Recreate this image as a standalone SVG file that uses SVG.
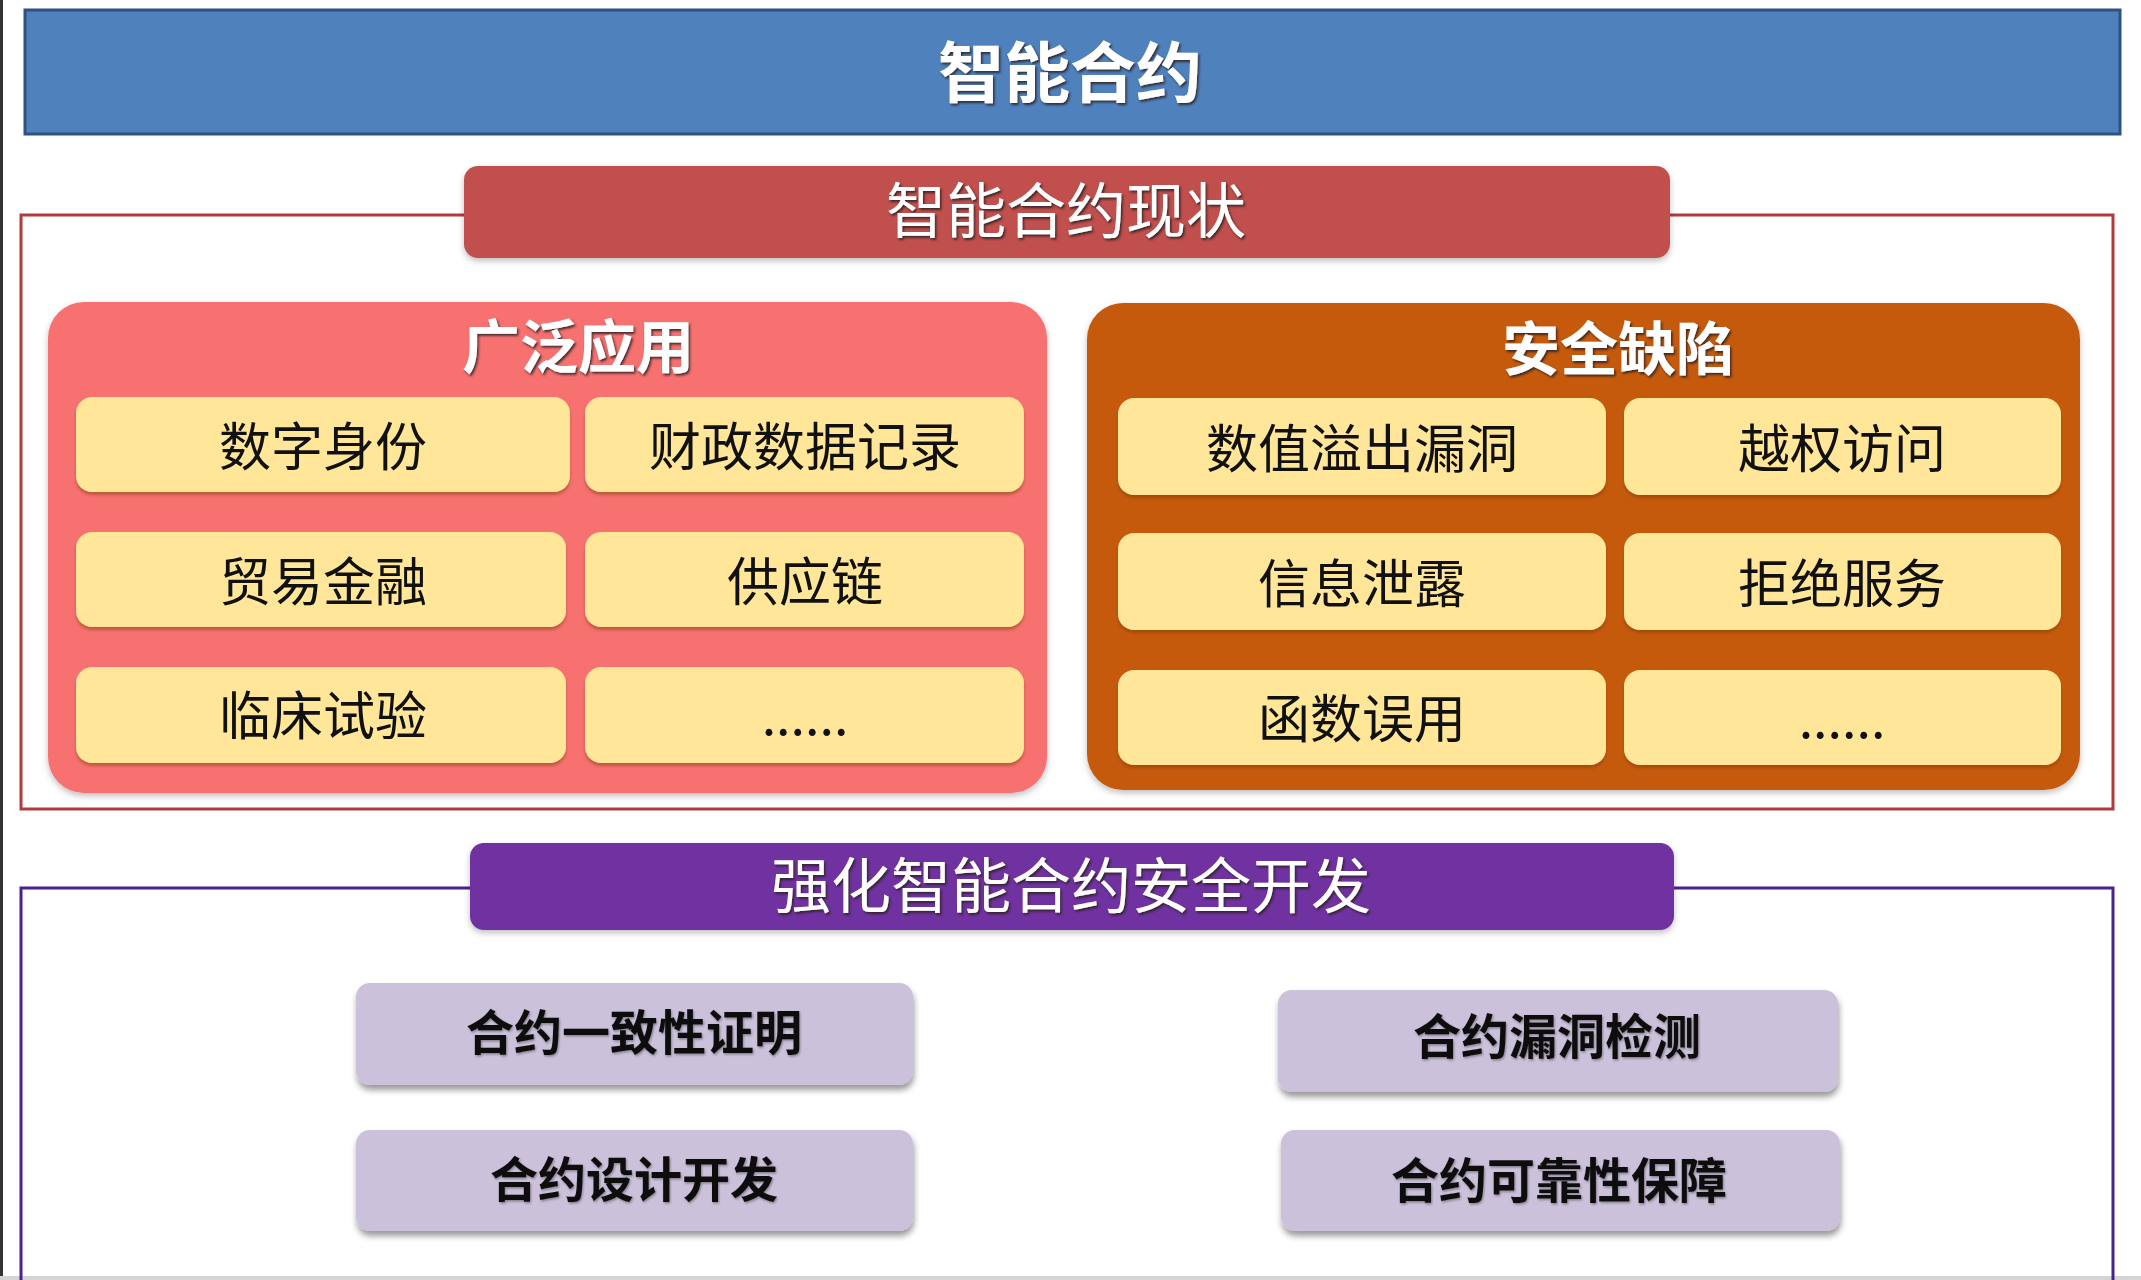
<svg xmlns="http://www.w3.org/2000/svg" width="2141" height="1280" viewBox="0 0 2141 1280">
<defs>
<filter id="tsh" x="-10%" y="-20%" width="120%" height="150%">
<feDropShadow dx="1.5" dy="2" stdDeviation="1" flood-color="#2a1a1a" flood-opacity="0.85"/>
</filter>
<filter id="tshl" x="-10%" y="-20%" width="120%" height="150%">
<feDropShadow dx="1" dy="1.5" stdDeviation="1" flood-color="#000" flood-opacity="0.35"/>
</filter>
<filter id="bsh" x="-5%" y="-10%" width="110%" height="130%">
<feDropShadow dx="1" dy="5" stdDeviation="3" flood-color="#000" flood-opacity="0.4"/>
</filter>
<filter id="ysh" x="-5%" y="-10%" width="110%" height="130%">
<feDropShadow dx="0" dy="3" stdDeviation="1.5" flood-color="#7a3a00" flood-opacity="0.45"/>
</filter>
<filter id="psh" x="-5%" y="-10%" width="110%" height="130%">
<feDropShadow dx="0" dy="3" stdDeviation="3" flood-color="#000" flood-opacity="0.25"/>
</filter>
</defs>
<style>
text{font-family:"Noto Sans CJK SC","Liberation Sans",sans-serif;text-anchor:middle;dominant-baseline:central;}
.wt{fill:#ffffff;filter:url(#tsh);}
.bold{font-weight:700;}
.yb{fill:#FFE699;filter:url(#ysh);}
.yt{fill:#111111;font-size:52px;}
.lb{fill:#CCC1DA;filter:url(#bsh);}
.lt{fill:#111111;font-size:48px;font-weight:700;filter:url(#tshl);}
.frame{fill:none;stroke-width:3;}
</style>
<rect x="0" y="0" width="2141" height="1280" fill="#ffffff"/>
<rect x="0" y="0" width="3" height="1280" fill="#333333"/>
<rect x="0" y="1276" width="2141" height="4" fill="#d4d4d4"/>

<g id="frames">
<polyline class="frame" stroke="#B03A3D" points="464,215 21,215 21,809 2113,809 2113,215 1670,215"/>
<polyline class="frame" stroke="#4B2190" points="470,888 21,888 21,1280"/>
<polyline class="frame" stroke="#4B2190" points="1674,888 2113,888 2113,1280"/>
</g>
<g id="connectors"></g>

<g id="title">
<rect x="25" y="10" width="2095" height="124" fill="#4F81BD" stroke="#2F5283" stroke-width="3"/>
<text class="wt bold" x="1070" y="68" font-size="66">智能合约</text>
</g>

<g id="status-header">
<rect x="464" y="166" width="1206" height="92" rx="14" fill="#C0504D" filter="url(#psh)"/>
<text class="wt" x="1066" y="206" font-size="60">智能合约现状</text>
</g>

<g id="panel-apps">
<rect x="48" y="302" width="999" height="491" rx="36" fill="#F6716F" filter="url(#psh)"/>
<text class="wt bold" x="578" y="343" font-size="58">广泛应用</text>
</g>
<g id="app-1"><rect class="yb" x="76" y="397" width="494" height="95" rx="16"/><text class="yt" x="323" y="443">数字身份</text></g>
<g id="app-2"><rect class="yb" x="585" y="397" width="439" height="95" rx="16"/><text class="yt" x="805" y="443">财政数据记录</text></g>
<g id="app-3"><rect class="yb" x="76" y="532" width="490" height="95" rx="16"/><text class="yt" x="323" y="578">贸易金融</text></g>
<g id="app-4"><rect class="yb" x="585" y="532" width="439" height="95" rx="16"/><text class="yt" x="805" y="578">供应链</text></g>
<g id="app-5"><rect class="yb" x="76" y="667" width="490" height="96" rx="16"/><text class="yt" x="323" y="712">临床试验</text></g>
<g id="app-6"><rect class="yb" x="585" y="667" width="439" height="96" rx="16"/><text class="yt" x="805" y="712">......</text></g>

<g id="panel-defects">
<rect x="1087" y="303" width="993" height="487" rx="36" fill="#C55A11" filter="url(#psh)"/>
<text class="wt bold" x="1618" y="345" font-size="58">安全缺陷</text>
</g>
<g id="def-1"><rect class="yb" x="1118" y="398" width="488" height="97" rx="16"/><text class="yt" x="1362" y="445">数值溢出漏洞</text></g>
<g id="def-2"><rect class="yb" x="1624" y="398" width="437" height="97" rx="16"/><text class="yt" x="1842" y="445">越权访问</text></g>
<g id="def-3"><rect class="yb" x="1118" y="533" width="488" height="97" rx="16"/><text class="yt" x="1362" y="580">信息泄露</text></g>
<g id="def-4"><rect class="yb" x="1624" y="533" width="437" height="97" rx="16"/><text class="yt" x="1842" y="580">拒绝服务</text></g>
<g id="def-5"><rect class="yb" x="1118" y="670" width="488" height="95" rx="16"/><text class="yt" x="1362" y="715">函数误用</text></g>
<g id="def-6"><rect class="yb" x="1624" y="670" width="437" height="95" rx="16"/><text class="yt" x="1842" y="715">......</text></g>

<g id="dev-header">
<rect x="470" y="843" width="1204" height="87" rx="14" fill="#7030A0" filter="url(#psh)"/>
<text class="wt" x="1071" y="881" font-size="60">强化智能合约安全开发</text>
</g>
<g id="dev-1"><rect class="lb" x="356" y="983" width="557" height="102" rx="14"/><text class="lt" x="634" y="1029">合约一致性证明</text></g>
<g id="dev-2"><rect class="lb" x="356" y="1130" width="557" height="101" rx="14"/><text class="lt" x="634" y="1176">合约设计开发</text></g>
<g id="dev-3"><rect class="lb" x="1278" y="990" width="560" height="102" rx="14"/><text class="lt" x="1557" y="1033">合约漏洞检测</text></g>
<g id="dev-4"><rect class="lb" x="1281" y="1130" width="559" height="101" rx="14"/><text class="lt" x="1559" y="1177">合约可靠性保障</text></g>
</svg>
